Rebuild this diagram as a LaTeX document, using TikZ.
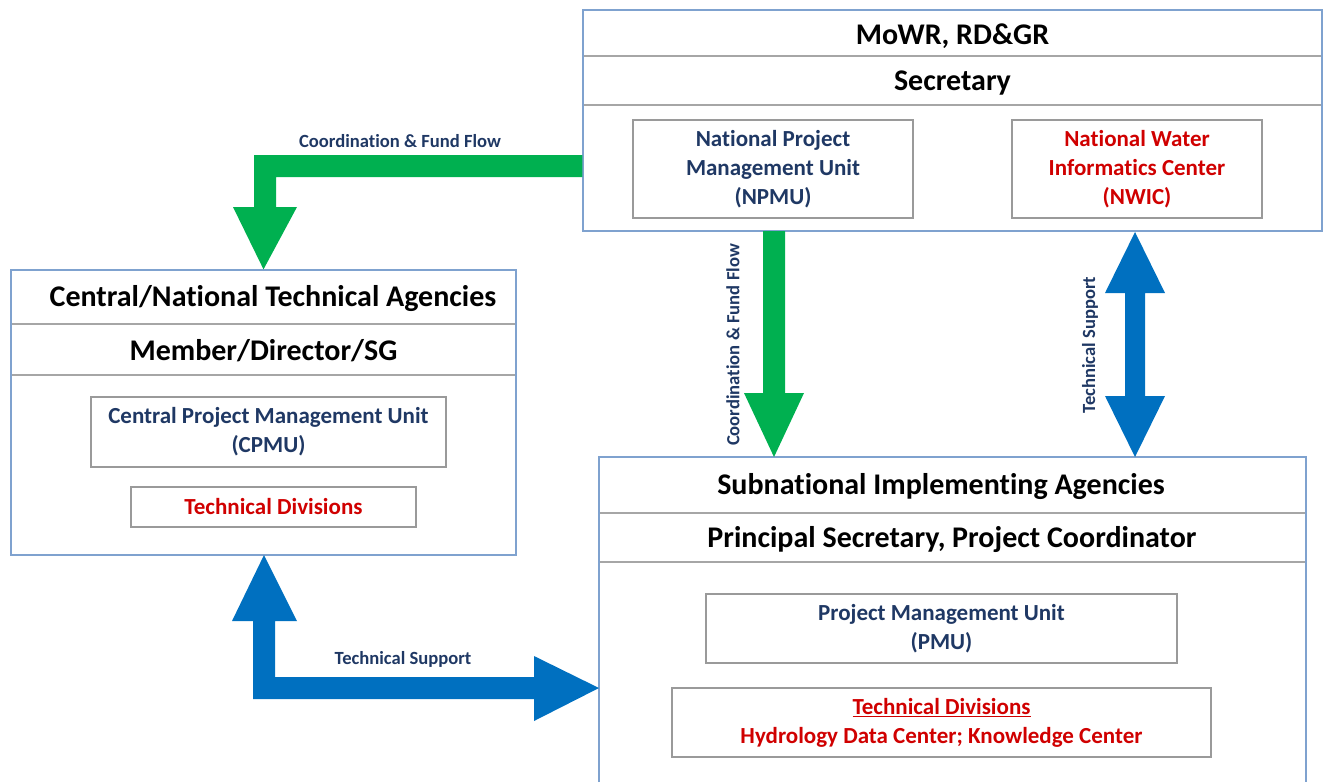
\documentclass[tikz,border=0pt]{standalone}
\usepackage{fontspec}
\setmainfont[Ligatures=NoCommon]{Carlito}
\usetikzlibrary{calc}
\definecolor{boxblue}{HTML}{7FA2CF}
\definecolor{rowgray}{HTML}{A6A6A6}
\definecolor{innergray}{HTML}{9A9A9A}
\definecolor{navy}{HTML}{1F3864}
\definecolor{dred}{HTML}{D00000}
\definecolor{agreen}{HTML}{00B050}
\definecolor{ablue}{HTML}{0070C0}
\begin{document}
\begin{tikzpicture}[x=1pt,y=-1pt,
  outerbox/.style={draw=boxblue,line width=1.3pt,inner sep=0pt},
  rowbox/.style={draw=rowgray,line width=1.2pt,inner sep=0pt},
  innerbox/.style={draw=innergray,line width=1.2pt,fill=white,inner sep=0pt},
  titletext/.style={font=\bfseries\fontsize{30}{34}\selectfont,text=black},
  unittext/.style={font=\bfseries\fontsize{23}{29}\selectfont,align=center},
  arrowlabel/.style={font=\bfseries\fontsize{18.6}{20}\selectfont,text=navy},
  greenarrow/.style={fill=agreen,draw=none},
  bluearrow/.style={fill=ablue,draw=none}]
\useasboundingbox (0,0) rectangle (1324,782);

% ---- top box
\node[rowbox,minimum width=739pt,minimum height=46pt] (mowrrow) at (952.5,33) {};
\node[rowbox,minimum width=739pt,minimum height=49pt] (secrow) at (952.5,80.5) {};
\node[outerbox,minimum width=739pt,minimum height=221pt] (mowr) at (952.5,120.5) {};
\node[titletext] (mowrT) at (952.5,36) {MoWR, RD\&GR};
\node[titletext] (secT) at (952.5,83) {Secretary};
\node[innerbox,minimum width=280pt,minimum height=98pt,unittext,text=navy] (npmu) at (773,169)
  {\rule{0pt}{0pt}\raisebox{0pt}{}National Project\\Management Unit\\(NPMU)};
\node[innerbox,minimum width=250pt,minimum height=98pt,unittext,text=dred] (nwic) at (1137,169)
  {National Water\\Informatics Center\\(NWIC)};

% ---- left box
\node[rowbox,minimum width=505pt,minimum height=54pt] (cnrow) at (263.5,297) {};
\node[rowbox,minimum width=505pt,minimum height=51pt] (mdrow) at (263.5,349.5) {};
\node[outerbox,minimum width=505pt,minimum height=285pt] (cna) at (263.5,412.5) {};
\node[titletext] (cnT) at (273,299) {Central/National Technical Agencies};
\node[titletext] (mdT) at (263.5,351) {Member/Director/SG};
\node[innerbox,minimum width=355pt,minimum height=70pt,unittext,text=navy] (cpmu) at (268.5,432)
  {Central Project Management Unit\\(CPMU)};
\node[innerbox,minimum width=285pt,minimum height=40pt,unittext,text=dred] (ctd) at (273.5,507)
  {Technical Divisions};

% ---- bottom box
\coordinate (sbl) at (599,782);
\coordinate (sbr) at (1306,782);
\node[rowbox,minimum width=707pt,minimum height=56pt] (sarow) at (952.5,485) {};
\node[rowbox,minimum width=707pt,minimum height=49pt] (psrow) at (952.5,537.5) {};
\draw[boxblue,line width=1.3pt] (sbl) -- (599,457) -- (1306,457) -- (sbr);
\node[titletext] (saT) at (941,487) {Subnational Implementing Agencies};
\node[titletext] (psT) at (952,539) {Principal Secretary, Project Coordinator};
\node[innerbox,minimum width=471pt,minimum height=69pt,unittext,text=navy] (pmu) at (941.5,628.5)
  {Project Management Unit\\(PMU)};
\node[innerbox,minimum width=539pt,minimum height=69pt,unittext,text=dred] (std) at (941.5,722.5)
  {\underline{Technical Divisions}\\Hydrology Data Center; Knowledge Center};

% ---- arrows
% green L arrow: MoWR -> Central agencies
\fill[greenarrow] (mowr.west |- 0,155) -- (254,155) -- (254,207) -- (233,207) -- (cna.north)
  -- (297,207) -- (276,207) -- (276,177) -- (mowr.west |- 0,177) -- cycle;
\node[arrowlabel] (lblcf1) at (400,141) {Coordination \& Fund Flow};

% green down arrow: NPMU -> Subnational
\fill[greenarrow] (763,231) -- (785,231) -- (785,393) -- (804,393) -- (774,457)
  -- (744,393) -- (763,393) -- cycle;
\node[arrowlabel,rotate=90] (lblcf2) at (733,345) {Coordination \& Fund Flow};

% blue double arrow: NWIC <-> Subnational
\fill[bluearrow] (1135,232) -- (1165,293) -- (1145,293) -- (1145,396) -- (1165,396)
  -- (1135,457) -- (1105,396) -- (1125,396) -- (1125,293) -- (1105,293) -- cycle;
\node[arrowlabel,rotate=90] (lblts1) at (1090,345) {Technical Support};

% blue L double arrow: Central <-> Subnational
\fill[bluearrow] (264,555) -- (297,621) -- (275,621) -- (275,677) -- (534,677) -- (534,656)
  -- (599,688) -- (534,721) -- (534,699) -- (253,699) -- (253,621) -- (232,621) -- cycle;
\node[arrowlabel] (lblts2) at (403,659) {Technical Support};
\end{tikzpicture}
\end{document}
